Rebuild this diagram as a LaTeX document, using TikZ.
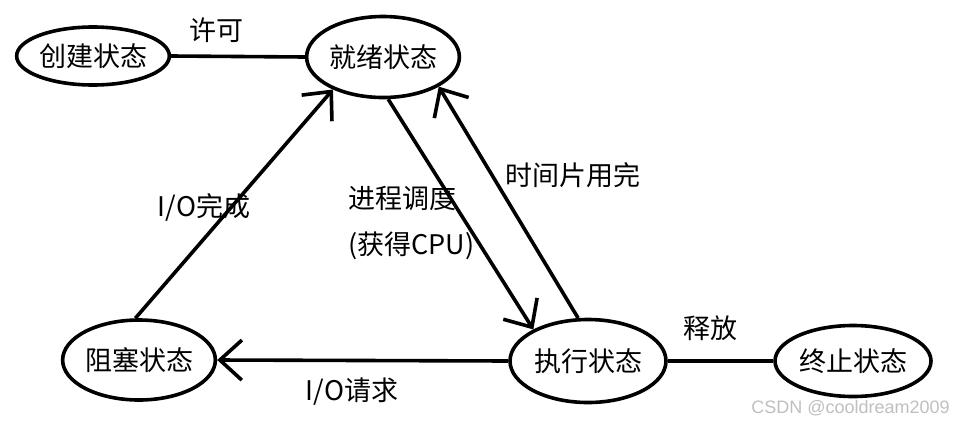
\documentclass[tikz,border=0pt]{standalone}
\usepackage{fontspec}
\setmainfont{Noto Sans CJK SC}
\newfontfamily\wmfont{Liberation Sans}
\usetikzlibrary{shapes.geometric,arrows.meta}
\begin{document}
\begin{tikzpicture}[x=1pt,y=-1pt,
  st/.style={ellipse,draw,line width=3.6pt,inner sep=0pt,font=\fontsize{27}{32}\selectfont},
  conn/.style={line width=3.6pt},
  arr/.style={conn,-{Straight Barb[length=22pt,width=40pt]}},
  lab/.style={font=\fontsize{27}{32}\selectfont,inner sep=0pt},
  wm/.style={font=\wmfont\fontsize{18}{22}\selectfont,text=gray!50,inner sep=0pt}]
\useasboundingbox (0,0) rectangle (953,426);
% states
\node[st,minimum width=129pt,minimum height=58pt] (cj) at (93,56) {创建状态};
\node[st,minimum width=133pt,minimum height=81pt] (jx) at (383,57) {就绪状态};
\node[st,minimum width=144pt,minimum height=80pt] (zs) at (139,360) {阻塞状态};
\node[st,minimum width=156pt,minimum height=83pt] (zx) at (588,361) {执行状态};
\node[st,minimum width=156pt,minimum height=71pt] (zz) at (853,361) {终止状态};
% connectors
\draw[conn] (cj.east) -- (jx.west);
\draw[arr] (zs.95) -- (jx.213);
\draw[arr] (jx.277) -- (zx.150);
\draw[arr] (zx.103) -- (jx.332);
\draw[arr] (zx.west) -- (zs.east);
\draw[conn] (zx.east) -- (zz.west);
% labels
\node[lab] (l1) at (216,30) {许可};
\node[lab] (l2) at (204,207) {I/O完成};
\node[lab,anchor=west,align=left,font=\fontsize{27}{46}\selectfont] (l3) at (348,223) {进程调度\\(获得CPU)};
\node[lab] (l4) at (573,175) {时间片用完};
\node[lab] (l5) at (352,392) {I/O请求};
\node[lab] (l6) at (710,328) {释放};
\node[wm,anchor=east] (wm) at (950,408) {CSDN @cooldream2009};
\end{tikzpicture}
\end{document}
